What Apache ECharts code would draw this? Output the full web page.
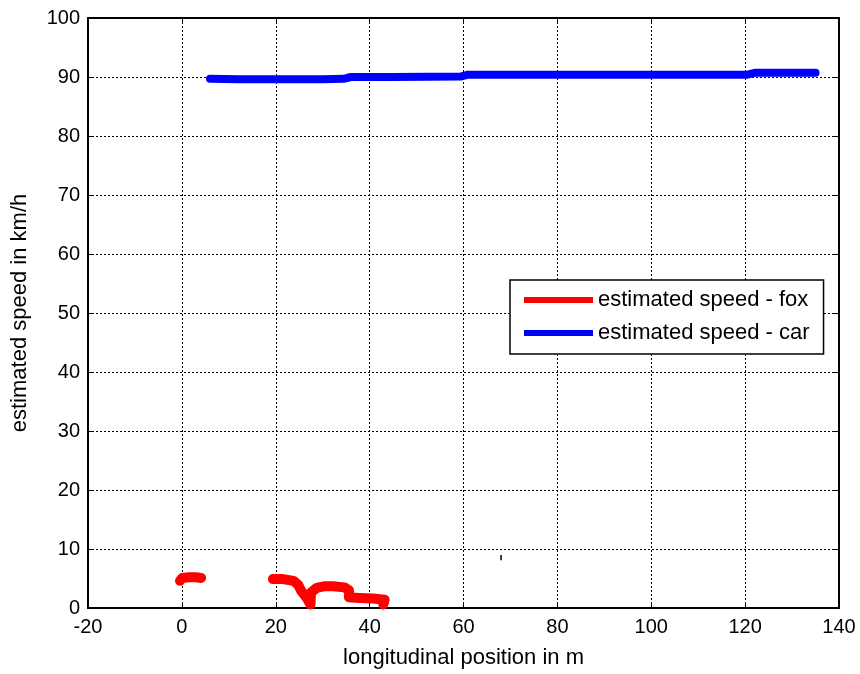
<!DOCTYPE html>
<html>
<head>
<meta charset="utf-8">
<title>estimated speed</title>
<script src="https://cdn.jsdelivr.net/npm/echarts@6/dist/echarts.min.js"></script>
<style>
  html, body { margin: 0; padding: 0; background: #fff; }
  #chart { width: 860px; height: 674px; }
</style>
</head>
<body>
<div id="chart"></div>
<script>
// data: [longitudinal position m, speed km/h]
var foxTrackA = [[-0.4, 4.6], [0.1, 5.1], [1.5, 5.2], [3.0, 5.2], [4.1, 5.1]];
var foxTrackB = [
  [19.4, 4.9], [21.5, 4.9], [23.8, 4.6], [24.8, 3.9], [25.5, 2.8],
  [26.6, 1.7], [27.4, 0.6], [27.5, 2.6], [28.7, 3.4], [30.5, 3.7],
  [32.2, 3.7], [34.6, 3.5], [35.6, 3.0], [35.6, 1.8], [37.9, 1.7],
  [40.7, 1.6], [43.2, 1.4], [42.9, 0.6]
];
var carTrack = [
  [6.0, 89.7], [12, 89.6], [20, 89.6], [30, 89.6], [34.5, 89.7],
  [36, 90.0], [45, 90.0], [59.5, 90.1], [61, 90.4], [80, 90.4],
  [100, 90.4], [120.5, 90.4], [122, 90.7], [135, 90.7]
];
var strayMark = [[68, 8.1], [68, 9.0]];

var xTicks = { min: -20, max: 140, step: 20 };
var yTicks = { min: 0, max: 100, step: 10 };

var FONT = 'Liberation Sans, Arial, Helvetica, sans-serif';

var chart = echarts.init(document.getElementById('chart'));

var tickStyle = { inside: true, length: 5, lineStyle: { color: '#000', width: 1 } };
var gridStyle = { show: true, lineStyle: { color: '#000', width: 1, type: [2, 2] } };
var edgeStyle = { show: true, onZero: false, lineStyle: { color: '#000', width: 2 } };

var option = {
  animation: false,
  backgroundColor: '#fff',
  grid: { left: 88, right: 21, top: 18, bottom: 64 },
  legend: {
    orient: 'vertical',
    left: 510,
    top: 280,
    data: ['estimated speed - fox', 'estimated speed - car'],
    icon: 'rect',
    itemWidth: 69,
    itemHeight: 6,
    itemGap: 11,
    itemTextGap: 15,
    padding: [9, 14, 10, 14],
    backgroundColor: '#fff',
    borderColor: '#000',
    borderWidth: 1.5,
    borderRadius: 0,
    textStyle: { fontFamily: FONT, fontSize: 22, color: '#000', lineHeight: 22 }
  },
  xAxis: [{
    type: 'value',
    min: xTicks.min, max: xTicks.max, interval: xTicks.step,
    name: 'longitudinal position in m',
    nameLocation: 'middle',
    nameGap: 39,
    nameTextStyle: { fontFamily: FONT, fontSize: 22, color: '#000' },
    axisLine: edgeStyle,
    axisTick: tickStyle,
    axisLabel: { fontFamily: FONT, fontSize: 20, color: '#000', margin: 9 },
    splitLine: gridStyle
  }, {
    type: 'value', position: 'top',
    min: xTicks.min, max: xTicks.max, interval: xTicks.step,
    axisLine: edgeStyle,
    axisTick: tickStyle,
    axisLabel: { show: false },
    splitLine: { show: false }
  }],
  yAxis: [{
    type: 'value',
    min: yTicks.min, max: yTicks.max, interval: yTicks.step,
    name: 'estimated speed in km/h',
    nameLocation: 'middle',
    nameGap: 57,
    nameTextStyle: { fontFamily: FONT, fontSize: 22, color: '#000' },
    axisLine: edgeStyle,
    axisTick: tickStyle,
    axisLabel: { fontFamily: FONT, fontSize: 20, color: '#000', margin: 8 },
    splitLine: gridStyle
  }, {
    type: 'value', position: 'right',
    min: yTicks.min, max: yTicks.max, interval: yTicks.step,
    axisLine: edgeStyle,
    axisTick: tickStyle,
    axisLabel: { show: false },
    splitLine: { show: false }
  }],
  series: [{
    name: 'estimated speed - fox',
    type: 'line',
    data: foxTrackA,
    symbol: 'none',
    color: '#ff0000',
    lineStyle: { width: 10, cap: 'round', join: 'round' }
  }, {
    name: 'estimated speed - fox',
    type: 'line',
    data: foxTrackB,
    symbol: 'none',
    color: '#ff0000',
    lineStyle: { width: 10, cap: 'round', join: 'round' }
  }, {
    name: 'estimated speed - car',
    type: 'line',
    data: carTrack,
    symbol: 'none',
    color: '#0000ff',
    lineStyle: { width: 8, cap: 'round', join: 'round' }
  }, {
    name: 'stray',
    type: 'line',
    data: strayMark,
    symbol: 'none',
    color: '#000',
    lineStyle: { width: 1.5 }
  }]
};

chart.setOption(option);
</script>
</body>
</html>
